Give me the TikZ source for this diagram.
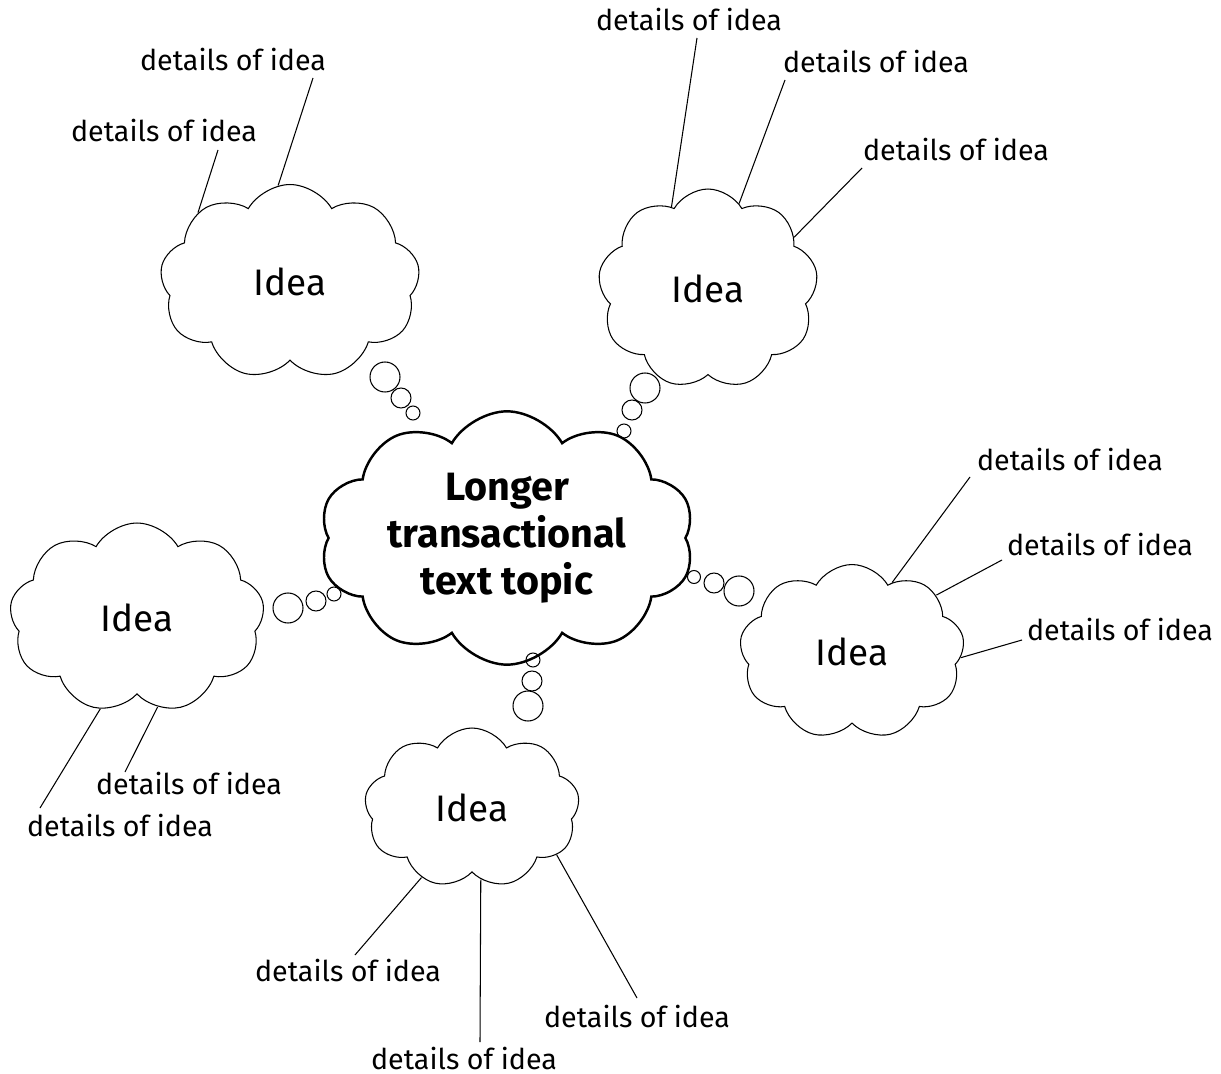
\documentclass[tikz,border=0pt]{standalone}
\usepackage{fontspec}
\setmainfont{Fira Sans}
\usetikzlibrary{shapes.symbols,calc}

\tikzset{
  idea/.style={cloud, cloud puffs=9, cloud puff arc=120, cloud ignores aspect,
    draw=black, line width=0.6pt, font=\fontsize{21}{24}\selectfont},
  topic/.style={idea, cloud puffs=10, line width=1.4pt, align=center,
    font=\fontsize{22.5}{26.6}\bfseries\selectfont},
  detail/.style={inner sep=0pt, font=\fontsize{16.3}{18}\selectfont},
  bubble/.style={circle, draw=black, line width=0.6pt, inner sep=0pt},
  link/.style={draw=black, line width=0.6pt},
}

\begin{document}
\begin{tikzpicture}[x=0.02cm,y=-0.02cm]
\useasboundingbox (0,0) rectangle (1221,1074);

% central topic
\node[topic, minimum width=7.5cm, minimum height=3.8cm] (topic) at (507,538)
  {Longer\\transactional\\text topic};

% ideas
\node[idea, minimum width=5.2cm, minimum height=3.9cm] (ideaA) at (290,282) {Idea};
\node[idea, minimum width=4.4cm, minimum height=4.0cm] (ideaB) at (708,289) {Idea};
\node[idea, minimum width=5.1cm, minimum height=3.8cm] (ideaC) at (137,618) {Idea};
\node[idea, minimum width=4.5cm, minimum height=3.5cm] (ideaD) at (852,652) {Idea};
\node[idea, minimum width=4.3cm, minimum height=3.2cm] (ideaE) at (472,808) {Idea};

% thought bubbles
\node[bubble, minimum size=0.6cm]  (bA1) at (385,377) {};
\node[bubble, minimum size=0.4cm]  (bA2) at (401,398) {};
\node[bubble, minimum size=0.28cm] (bA3) at (413,413) {};
\node[bubble, minimum size=0.6cm]  (bB1) at (645,388) {};
\node[bubble, minimum size=0.4cm]  (bB2) at (632,410) {};
\node[bubble, minimum size=0.28cm] (bB3) at (624,431) {};
\node[bubble, minimum size=0.6cm]  (bC1) at (288,608) {};
\node[bubble, minimum size=0.4cm]  (bC2) at (316,601) {};
\node[bubble, minimum size=0.28cm] (bC3) at (334,594) {};
\node[bubble, minimum size=0.6cm]  (bD1) at (739,591) {};
\node[bubble, minimum size=0.4cm]  (bD2) at (714,583) {};
\node[bubble, minimum size=0.26cm] (bD3) at (694,577) {};
\node[bubble, minimum size=0.6cm]  (bE1) at (528,706) {};
\node[bubble, minimum size=0.4cm]  (bE2) at (532,681) {};
\node[bubble, minimum size=0.28cm] (bE3) at (533,660) {};

% details
\node[detail] (dA1) at (233,60)   {details of idea};
\node[detail] (dA2) at (164,131)  {details of idea};
\node[detail] (dB1) at (689,20)   {details of idea};
\node[detail] (dB2) at (876,62)   {details of idea};
\node[detail] (dB3) at (956,150)  {details of idea};
\node[detail] (dD1) at (1070,460) {details of idea};
\node[detail] (dD2) at (1100,545) {details of idea};
\node[detail] (dD3) at (1120,630) {details of idea};
\node[detail] (dC1) at (189,784)  {details of idea};
\node[detail] (dC2) at (120,826)  {details of idea};
\node[detail] (dE1) at (348,970)  {details of idea};
\node[detail] (dE2) at (637,1016) {details of idea};
\node[detail] (dE3) at (464,1058) {details of idea};

% connectors
\draw[link] (ideaA.97)  -- ($(dA1)+(80,18)$);
\draw[link] (ideaA.143) -- ($(dA2)+(54,19)$);
\draw[link] (ideaB.114) -- ($(dB1)+(8,18)$);
\draw[link] (ideaB.70)  -- ($(dB2)+(-91,18)$);
\draw[link] (ideaB.31)  -- ($(dB3)+(-94,18)$);
\draw[link] (ideaD.60)  -- ($(dD1)+(-100,17)$);
\draw[link] (ideaD.34)  -- ($(dD2)+(-98,15)$);
\draw[link] (ideaD.-3)  -- ($(dD3)+(-98,10)$);
\draw[link] (ideaC.-77) -- ($(dC1)+(-64,-12)$);
\draw[link] (ideaC.-112) -- ($(dC2)+(-80,-18)$);
\draw[link] (ideaE.-126) -- ($(dE1)+(7,-15)$);
\draw[link] (ideaE.-29) -- ($(dE2)+(0,-18)$);
\draw[link] (ideaE.-83) -- ($(dE3)+(16,-16)$);

\end{tikzpicture}
\end{document}
